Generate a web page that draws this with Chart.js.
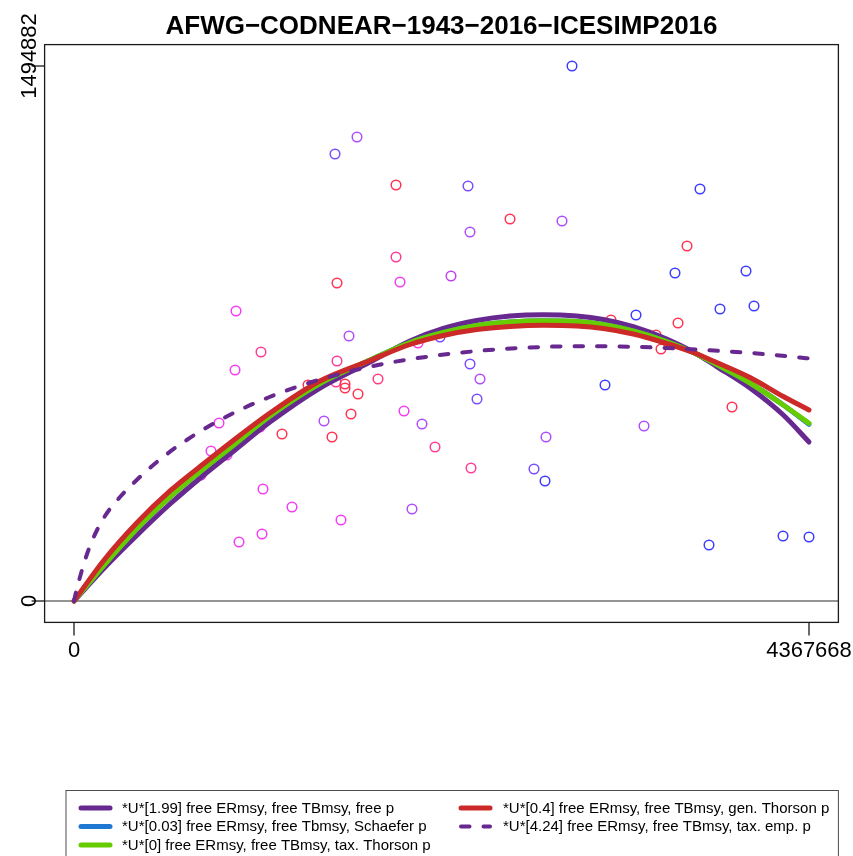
<!DOCTYPE html>
<html>
<head>
<meta charset="utf-8">
<script src="https://cdn.jsdelivr.net/npm/chart.js@4.4.0/dist/chart.umd.min.js"></script>
<style>
  html, body { margin: 0; padding: 0; background: #ffffff; }
  canvas { display: block; }
</style>
</head>
<body>
<canvas id="chart" width="853" height="856"></canvas>
<script>
// ---- text ----
const chartTitle = 'AFWG\u2212CODNEAR\u22121943\u22122016\u2212ICESIMP2016';
const xTicks = [0, 4367668];
const yTicks = [0, 1494882];
const seriesLabels = [
  '*U*[1.99] free ERmsy, free TBmsy, free p',
  '*U*[0.03] free ERmsy, free Tbmsy, Schaefer p',
  '*U*[0] free ERmsy, free TBmsy, tax. Thorson p',
  '*U*[0.4] free ERmsy, free TBmsy, gen. Thorson p',
  '*U*[4.24] free ERmsy, free TBmsy, tax. emp. p'
];

// ---- observed biomass / surplus production pairs ----
const biomass = [
  2959300, 1681700, 1551000, 1913500, 2341300, 3719900, 2590900, 2899900, 2353200, 3642700,
  1913500, 2240300, 1937200, 3571400, 3993300, 1562900,  962700, 4040800, 3838800, 3339600,
  3191100, 3589200, 1634200, 2044200, 2174900, 3458500, 3488200, 1111200, 1562900, 2353200,
   956700, 2412600, 1806500, 3155400, 1390500, 1556900, 1610400, 1610400, 1687600, 2394800,
  1961000, 1646000,  861600, 1485600, 2068000, 3387200, 3910100, 1236000, 1533100, 2804800,
  1105300, 2145200,  814100,  909200, 2359100, 2733500, 2798900,  754700, 1123100, 1295400,
  2008500, 1586600, 1117200,  980500, 3773400, 4213200, 4367668
];
const production = [
  1494882, 1296500, 1249000, 1162400, 1159600, 1151200, 1067400, 1061800, 1031000,  991900,
   961200,  908100,  891300,  916500,  922100,  888500,  810300,  824300,  815900,  799100,
   785200,  776800,  740500,  720900,  737700,  743200,  704100,  695700,  670600,  662200,
   645400,  620300,  620300,  603500,  603500,  611900,  606300,  595200,  578400,  564400,
   530900,  522500,  497400,  502900,  494600,  489000,  542100,  466600,  458200,  458200,
   486200,  430300,  419100,  407900,  371600,  368800,  335300,  352100,  312900,  262700,
   257100,  226300,  187200,  164900,  156500,  181600,  178800
];
const pointColours = [
  '#3d3dff', '#b04dff', '#7a4dff', '#ff3352', '#7a4dff', '#3d3dff', '#ff3352', '#b04dff', '#b04dff', '#ff3352',
  '#ff3d96', '#c040f5', '#f53df5', '#3d3dff', '#3d3dff', '#ff3352', '#f53df5', '#3d3dff', '#3d3dff', '#3d3dff',
  '#ff3352', '#ff3352', '#b04dff', '#f53df5', '#7a4dff', '#ff3352', '#ff3352', '#ff3d96', '#ff3d96', '#7a4dff',
  '#f53df5', '#b04dff', '#ff3d80', '#3d3dff', '#ff3352', '#ff3d96', '#ff3352', '#ff3352', '#ff3352', '#7a4dff',
  '#f53df5', '#ff3352', '#f53df5', '#b04dff', '#b04dff', '#b04dff', '#ff3352', '#ff3352', '#ff3352', '#b04dff',
  '#f53df5', '#ff3d96', '#f53df5', '#f53df5', '#ff3d96', '#7a4dff', '#3d3dff', '#f53df5', '#f53df5', '#f53df5',
  '#b04dff', '#f53df5', '#f53df5', '#f53df5', '#3d3dff', '#3d3dff', '#3d3dff'
];

// ---- fitted production curves ----
const curveBiomass = [
  0, 174100, 372600, 570500, 768400, 927000, 1164700, 1461800, 1759000, 1996600,
  2194500, 2393000, 2590900, 2788800, 2987300, 3145300, 3323600, 3522100, 3680100, 3819200,
  4017100, 4214900, 4367668
];
const fitFreeP = [
  0,  89400, 183000, 271000, 350700, 410700, 500200, 595200, 667800, 726500,
  761400, 783800, 796300, 800000, 796300, 786600, 766400, 732100, 695700, 655200,
  595200, 519700, 444300
];
const fitSchaefer = [
  0,  97800, 201200, 290600, 368800, 427500, 516900, 607700, 673400, 722300,
  750200, 769800, 779600, 783200, 781000, 772600, 754400, 725100, 694400, 660800,
  609100, 547700, 493700
];
const fitTaxThorson = [
  0,  97800, 201200, 290600, 368800, 427500, 516900, 607700, 673400, 722300,
  750200, 769800, 779600, 783200, 781000, 772600, 754400, 725100, 694400, 660800,
  609100, 547700, 496500
];
const fitGenThorson = [
  0, 111800, 217900, 307400, 382800, 441500, 525300, 614700, 672000, 716700,
  741900, 758600, 767000, 770400, 768400, 761400, 746000, 719500, 694400, 666400,
  624500, 571400, 533700
];
const empBiomass = [
  0, 14900, 35700, 65400, 114700, 184200, 273400, 372600, 471200, 570500,
  669700, 788600, 907400, 1016100, 1154600, 1264000, 1402400, 1659700, 1897400, 2155300,
  2432200, 2709700, 2987200, 3244600, 3522100, 3779500, 4036700, 4314200, 4367668
];
const fitTaxEmp = [
  0, 30700, 67100, 114600, 176000, 237500, 290600, 338100, 380000, 417200,
  449900, 484800, 515500, 540700, 568600, 588200, 610500, 644000, 667800, 686000,
  700000, 708300, 712000, 711100, 706900, 700500, 692400, 680400, 677600
];

// ---- build ----
const FONT = "'Liberation Sans', Arial, Helvetica, sans-serif";
const pairs = (xs, ys) => xs.map((v, i) => ({ x: v, y: ys[i] }));
const xSpan = xTicks[1] - xTicks[0];
const ySpan = yTicks[1] - yTicks[0];

const seriesStyle = [
  { data: pairs(curveBiomass, fitFreeP),      color: '#67288f', dash: [],        order: 5 },
  { data: pairs(curveBiomass, fitSchaefer),   color: '#1f78d1', dash: [],        order: 4 },
  { data: pairs(curveBiomass, fitTaxThorson), color: '#66cc00', dash: [],        order: 3 },
  { data: pairs(curveBiomass, fitGenThorson), color: '#cc2929', dash: [],        order: 2 },
  { data: pairs(empBiomass, fitTaxEmp),       color: '#67288f', dash: [8.5, 14], order: 1 }
];

const lineSets = seriesStyle.map((s, i) => ({
  type: 'line',
  label: seriesLabels[i],
  data: s.data,
  borderColor: s.color,
  backgroundColor: s.color,
  borderWidth: s.dash.length ? 4 : 5,
  borderDash: s.dash,
  borderCapStyle: 'round',
  borderJoinStyle: 'round',
  cubicInterpolationMode: 'monotone',
  pointRadius: 0,
  fill: false,
  order: s.order
}));

const pointSet = {
  type: 'scatter',
  label: 'observed',
  data: pairs(biomass, production),
  pointRadius: 4.8,
  pointBorderWidth: 1.5,
  pointBackgroundColor: 'rgba(0,0,0,0)',
  pointBorderColor: pointColours,
  showLine: false,
  order: 6
};

// axes, frame, title and legend in base-graphics style
const frame = {
  id: 'frame',
  beforeDatasetsDraw(chart) {
    const { ctx, chartArea: a, scales: { y } } = chart;
    const y0 = y.getPixelForValue(0);
    ctx.save();
    ctx.strokeStyle = '#2a2a2a';
    ctx.lineWidth = 1.2;
    ctx.beginPath();
    ctx.moveTo(a.left, y0);
    ctx.lineTo(a.right, y0);
    ctx.stroke();
    ctx.restore();
  },
  afterDraw(chart) {
    const { ctx, chartArea: a, scales: { x, y } } = chart;
    ctx.save();
    ctx.strokeStyle = '#1a1a1a';
    ctx.lineWidth = 1.3;
    ctx.strokeRect(a.left, a.top, a.right - a.left, a.bottom - a.top);

    ctx.fillStyle = '#000';
    ctx.font = '22px ' + FONT;
    // x axis
    xTicks.forEach(v => {
      const px = x.getPixelForValue(v);
      ctx.beginPath();
      ctx.moveTo(px, a.bottom);
      ctx.lineTo(px, a.bottom + 13);
      ctx.stroke();
      ctx.textAlign = 'center';
      ctx.textBaseline = 'alphabetic';
      ctx.fillText(String(v), px, a.bottom + 35);
    });
    // y axis, labels read upward
    yTicks.forEach((v, i) => {
      const py = y.getPixelForValue(v);
      ctx.beginPath();
      ctx.moveTo(a.left - 13, py);
      ctx.lineTo(a.left, py);
      ctx.stroke();
      const shift = i === yTicks.length - 1 ? -10 : 0;
      ctx.save();
      ctx.translate(a.left - 9, py + shift);
      ctx.rotate(-Math.PI / 2);
      ctx.textAlign = 'center';
      ctx.textBaseline = 'alphabetic';
      ctx.fillText(String(v), 0, 0);
      ctx.restore();
    });

    // title
    ctx.font = 'bold 26px ' + FONT;
    ctx.textAlign = 'center';
    ctx.textBaseline = 'alphabetic';
    ctx.fillText(chartTitle, (a.left + a.right) / 2, 33.5);

    // legend (filled column by column, three rows)
    const boxLeft = 66, boxTop = 790.5, boxRight = a.right;
    ctx.strokeStyle = '#4d4d4d';
    ctx.lineWidth = 1;
    ctx.strokeRect(boxLeft, boxTop, boxRight - boxLeft, 90);
    const colX = [79, 459];
    const textX = [122, 503];
    const rowY = [808, 826.5, 845];
    ctx.font = '15px ' + FONT;
    ctx.textAlign = 'left';
    ctx.textBaseline = 'middle';
    lineSets.forEach((ds, i) => {
      const col = Math.floor(i / 3), row = i % 3;
      const lx = colX[col], ly = rowY[row];
      ctx.save();
      ctx.strokeStyle = ds.borderColor;
      ctx.lineWidth = ds.borderWidth;
      ctx.lineCap = 'round';
      ctx.setLineDash(ds.borderDash);
      ctx.beginPath();
      ctx.moveTo(lx + 2, ly);
      ctx.lineTo(lx + 31, ly);
      ctx.stroke();
      ctx.restore();
      ctx.fillStyle = '#000';
      ctx.fillText(ds.label, textX[col], ly + 0.5);
    });
    ctx.restore();
  }
};

new Chart(document.getElementById('chart'), {
  type: 'scatter',
  data: { datasets: [...lineSets, pointSet] },
  options: {
    responsive: false,
    animation: false,
    events: [],
    layout: { padding: { left: 44.6, right: 14.6, top: 44.6, bottom: 233.6 } },
    scales: {
      x: { type: 'linear', min: xTicks[0] - 0.04 * xSpan, max: xTicks[1] + 0.04 * xSpan, display: false },
      y: { type: 'linear', min: yTicks[0] - 0.04 * ySpan, max: yTicks[1] + 0.04 * ySpan, display: false }
    },
    plugins: {
      legend: { display: false },
      title: { display: false },
      tooltip: { enabled: false }
    }
  },
  plugins: [frame]
});
</script>
</body>
</html>
